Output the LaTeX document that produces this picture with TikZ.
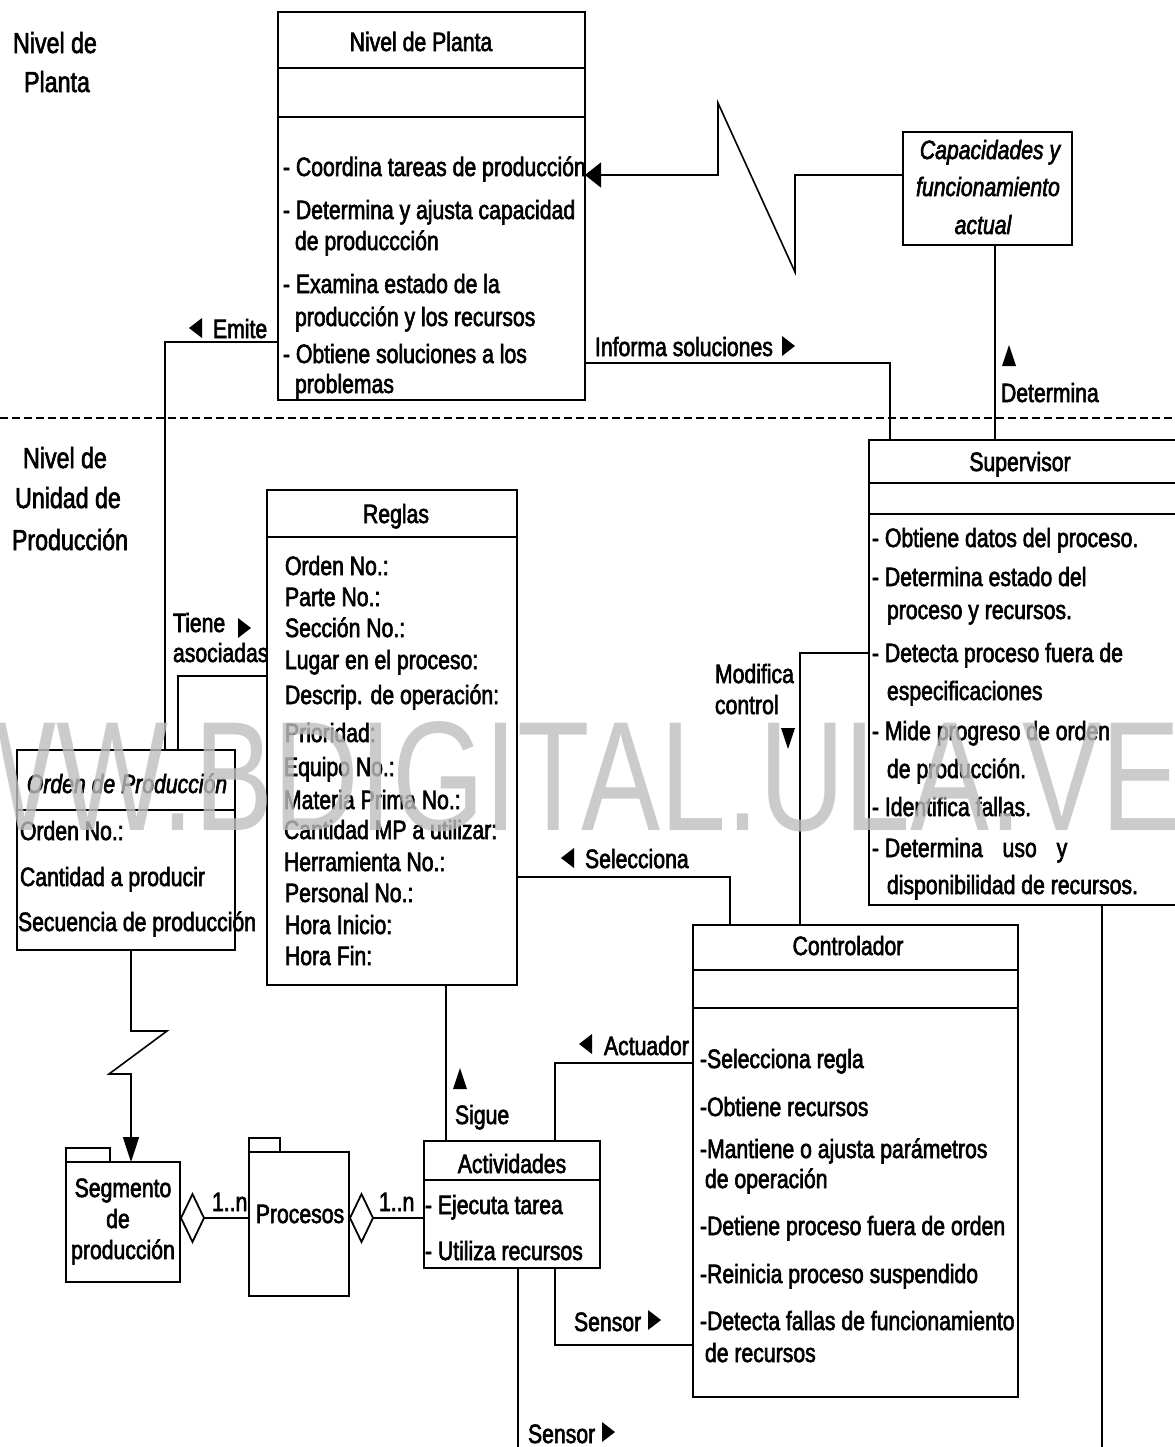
\documentclass[tikz,border=0pt]{standalone}
\usepackage{fontspec}
\setmainfont{Liberation Sans}[FakeStretch=0.8]
\newfontfamily\wmfont{Liberation Sans}[FakeStretch=0.76]
\usetikzlibrary{arrows.meta,fit}
% heavier text: fill and stroke the glyph outlines
\newcommand\inkset{\special{pdf:literal direct 2 Tr 0.3 w}}
\newcommand\bodyfont{\fontsize{13.25}{15}\selectfont\inkset}
\newcommand\levelfont{\fontsize{14.5}{17}\selectfont\inkset}
\definecolor{wmgray}{RGB}{190,190,190}
\begin{document}
\begin{tikzpicture}[x=0.5pt,y=-0.5pt,
  box/.style={draw, line width=1.2pt, inner sep=0pt, outer sep=0pt},
  sep/.style={line width=1.1pt},
  conn/.style={line width=0.8pt},
  txt/.style={anchor=base west, inner sep=0pt, outer sep=0pt, font=\bodyfont},
  ctxt/.style={anchor=base, inner sep=0pt, outer sep=0pt, font=\bodyfont},
  lvl/.style={anchor=base, inner sep=0pt, outer sep=0pt, font=\levelfont},
  bigtip/.style={-{Triangle[length=8pt,width=12.5pt]}},
  downtip/.style={-{Triangle[length=12.5pt,width=8pt]}},
  agg/.style={-{Diamond[open,length=12.5pt,width=26pt,line width=0.9pt]}},
  trir/.pic={\fill (-6,-10) -- (7,0) -- (-6,10) -- cycle;},
  tril/.pic={\fill (6,-10) -- (-7,0) -- (6,10) -- cycle;},
  triu/.pic={\fill (-7,10) -- (0,-11) -- (7,10) -- cycle;},
  trid/.pic={\fill (-7,-10) -- (0,11) -- (7,-10) -- cycle;},
]
\useasboundingbox (0,0) rectangle (1174,1447);
\fill[white] (0,0) rectangle (1174,1447);

% ---------- level captions and divider ----------
\node[lvl] (lvlA1) at (55,53) {Nivel de};
\node[lvl] (lvlA2) at (57,92) {Planta};
\node[lvl] (lvlB1) at (65,468) {Nivel de};
\node[lvl] (lvlB2) at (68,508) {Unidad de};
\node[lvl] (lvlB3) at (70,550) {Producción};
\draw[line width=1pt, dash pattern=on 4pt off 2pt] (0,418) -- (1174,418);

% ---------- Nivel de Planta ----------
\node[box, fit={(278,12) (585,400)}] (planta) {};
\draw[sep] (planta.west |- 0,68) -- (planta.east |- 0,68);
\draw[sep] (planta.west |- 0,117) -- (planta.east |- 0,117);
\node[ctxt] (plantaT) at (421,51) {Nivel de Planta};
\node[txt] (pl1) at (283,176) {- Coordina tareas de producción};
\node[txt] (pl2) at (283,219) {- Determina y ajusta capacidad};
\node[txt] (pl3) at (295,250) {de produccción};
\node[txt] (pl4) at (283,293) {- Examina estado de la};
\node[txt] (pl5) at (295,326) {producción y los recursos};
\node[txt] (pl6) at (283,363) {- Obtiene soluciones a los};
\node[txt] (pl7) at (295,393) {problemas};

% ---------- Capacidades y funcionamiento actual ----------
\node[box, fit={(903,132) (1072,245)}] (capa) {};
\node[ctxt, font=\bodyfont\itshape] (ca1) at (990,159) {Capacidades y};
\node[ctxt, font=\bodyfont\itshape] (ca2) at (988,196) {funcionamiento};
\node[ctxt, font=\bodyfont\itshape] (ca3) at (983,234) {actual};

% ---------- Supervisor ----------
\node[box, fit={(869,440) (1185,905)}] (super) {};
\draw[sep] (super.west |- 0,483) -- (super.east |- 0,483);
\draw[sep] (super.west |- 0,514) -- (super.east |- 0,514);
\node[ctxt] (superT) at (1020,471) {Supervisor};
\node[txt] (su1) at (872,547) {- Obtiene datos del proceso.};
\node[txt] (su2) at (872,586) {- Determina estado del};
\node[txt] (su3) at (887,619) {proceso y recursos.};
\node[txt] (su4) at (872,662) {- Detecta proceso fuera de};
\node[txt] (su5) at (887,700) {especificaciones};
\node[txt] (su6) at (872,740) {- Mide progreso de orden};
\node[txt] (su7) at (887,778) {de producción.};
\node[txt] (su8) at (872,816) {- Identifica fallas.};
\node[txt] (su9) at (872,857) {- Determina\hspace{7pt} uso\hspace{7pt} y};
\node[txt] (su10) at (887,894) {disponibilidad de recursos.};

% ---------- Reglas ----------
\node[box, fit={(267,490) (517,985)}] (reglas) {};
\draw[sep] (reglas.west |- 0,537) -- (reglas.east |- 0,537);
\node[ctxt] (reglasT) at (396,523) {Reglas};
\node[txt] (re1) at (285,575) {Orden No.:};
\node[txt] (re2) at (285,606) {Parte No.:};
\node[txt] (re3) at (285,637) {Sección No.:};
\node[txt] (re4) at (285,669) {Lugar en el proceso:};
\node[txt] (re5) at (285,704) {Descrip. de operación:};
\node[txt] (re6) at (285,742) {Prioridad:};
\node[txt] (re7) at (284,776) {Equipo No.:};
\node[txt] (re8) at (284,809) {Materia Prima No.:};
\node[txt] (re9) at (284,839) {Cantidad MP a utilizar:};
\node[txt] (re10) at (284,871) {Herramienta No.:};
\node[txt] (re11) at (285,902) {Personal No.:};
\node[txt] (re12) at (285,934) {Hora Inicio:};
\node[txt] (re13) at (285,965) {Hora Fin:};

% ---------- Orden de Producción ----------
\node[box, fit={(17,750) (235,950)}] (orden) {};
\draw[sep] (orden.west |- 0,810) -- (orden.east |- 0,810);
\node[ctxt, font=\bodyfont\itshape] (ordenT) at (127,793) {Orden de Producción};
\node[txt] (or1) at (20,840) {Orden No.:};
\node[txt] (or2) at (20,886) {Cantidad a producir};
\node[txt] (or3) at (18,931) {Secuencia de producción};

% ---------- Controlador ----------
\node[box, fit={(693,925) (1018,1397)}] (ctrl) {};
\draw[sep] (ctrl.west |- 0,970) -- (ctrl.east |- 0,970);
\draw[sep] (ctrl.west |- 0,1008) -- (ctrl.east |- 0,1008);
\node[ctxt] (ctrlT) at (848,955) {Controlador};
\node[txt] (co1) at (700,1068) {-Selecciona regla};
\node[txt] (co2) at (700,1116) {-Obtiene recursos};
\node[txt] (co3) at (700,1158) {-Mantiene o ajusta parámetros};
\node[txt] (co4) at (705,1188) {de operación};
\node[txt] (co5) at (700,1235) {-Detiene proceso fuera de orden};
\node[txt] (co6) at (700,1283) {-Reinicia proceso suspendido};
\node[txt] (co7) at (700,1330) {-Detecta fallas de funcionamiento};
\node[txt] (co8) at (705,1362) {de recursos};

% ---------- packages and Actividades ----------
\node[box, fit={(66,1148) (110,1162)}] (segmTab) {};
\node[box, fit={(66,1162) (180,1282)}] (segm) {};
\node[ctxt] (sg1) at (123,1197) {Segmento};
\node[ctxt] (sg2) at (118,1228) {de};
\node[ctxt] (sg3) at (123,1259) {producción};

\node[box, fit={(249,1138) (280,1152)}] (procTab) {};
\node[box, fit={(249,1152) (349,1296)}] (proc) {};
\node[ctxt] (procT) at (300,1223) {Procesos};

\node[box, fit={(424,1141) (600,1268)}] (activ) {};
\draw[sep] (activ.west |- 0,1180) -- (activ.east |- 0,1180);
\node[ctxt] (activT) at (512,1173) {Actividades};
\node[txt] (ac1) at (425,1214) {- Ejecuta tarea};
\node[txt] (ac2) at (425,1260) {- Utiliza recursos};

% ---------- connectors ----------
\draw[conn, bigtip] (capa.west |- 0,175) -- (795,175) -- (795,272) -- (718,103)
  -- (718,175) -- (planta.east |- 0,175);
\draw[conn] (capa.south -| 995,0) -- (super.north -| 995,0);
\draw[conn] (planta.east |- 0,363) -| (super.north -| 890,0);
\draw[conn] (planta.west |- 0,342) -| (orden.north -| 165,0);
\draw[conn] (reglas.west |- 0,676) -| (orden.north -| 178,0);
\draw[conn] (super.west |- 0,653) -| (ctrl.north -| 800,0);
\draw[conn] (reglas.east |- 0,877) -| (ctrl.north -| 730,0);
\coordinate (superOut) at (1102,1447);
\draw[conn] (super.south -| superOut) -- (superOut);
\draw[conn] (reglas.south -| 446,0) -- (activ.north -| 446,0);
\draw[conn] (ctrl.west |- 0,1063) -| (activ.north -| 555,0);
\draw[conn] (activ.south -| 555,0) |- (ctrl.west |- 0,1345);
\coordinate (activOut) at (518,1447);
\draw[conn] (activ.south -| activOut) -- (activOut);
\draw[conn, downtip] (orden.south -| 131,0) -- (131,1031) -- (167,1031) -- (109,1074)
  -- (131,1074) -- (segm.north -| 131,0);
\draw[conn, agg] (proc.west |- 0,1218) -- (segm.east |- 0,1218);
\draw[conn, agg] (activ.west |- 0,1218) -- (proc.east |- 0,1218);

% ---------- connector labels ----------
\pic at (196,328) {tril};
\node[txt] (lbEmite) at (213,338) {Emite};
\node[txt] (lbInforma) at (595,356) {Informa soluciones};
\pic at (788,346) {trir};
\pic at (1009,356) {triu};
\node[txt] (lbDetermina) at (1001,402) {Determina};
\node[txt] (lbTiene) at (173,632) {Tiene};
\pic at (244,628) {trir};
\node[txt] (lbAsoc) at (173,662) {asociadas};
\node[txt] (lbModifica) at (715,683) {Modifica};
\node[txt] (lbControl) at (715,714) {control};
\pic at (788,738) {trid};
\pic at (568,858) {tril};
\node[txt] (lbSelecciona) at (585,868) {Selecciona};
\pic at (586,1044) {tril};
\node[txt] (lbActuador) at (604,1055) {Actuador};
\pic at (460,1079) {triu};
\node[txt] (lbSigue) at (455,1124) {Sigue};
\node[txt] (lbSensorA) at (574,1331) {Sensor};
\pic at (654,1320) {trir};
\node[txt] (lbSensorB) at (528,1443) {Sensor};
\pic at (608,1432) {trir};
\node[txt] (lbMult1) at (212,1211) {1..n};
\node[txt] (lbMult2) at (379,1211) {1..n};

% ---------- site watermark ----------
\node[anchor=base west, inner sep=0pt, font=\wmfont\fontsize{78}{80}\selectfont,
  text=wmgray, opacity=0.8] (wm) at (-168,830) {WWW.BDIGITAL.ULA.VE};
\end{tikzpicture}
\end{document}
